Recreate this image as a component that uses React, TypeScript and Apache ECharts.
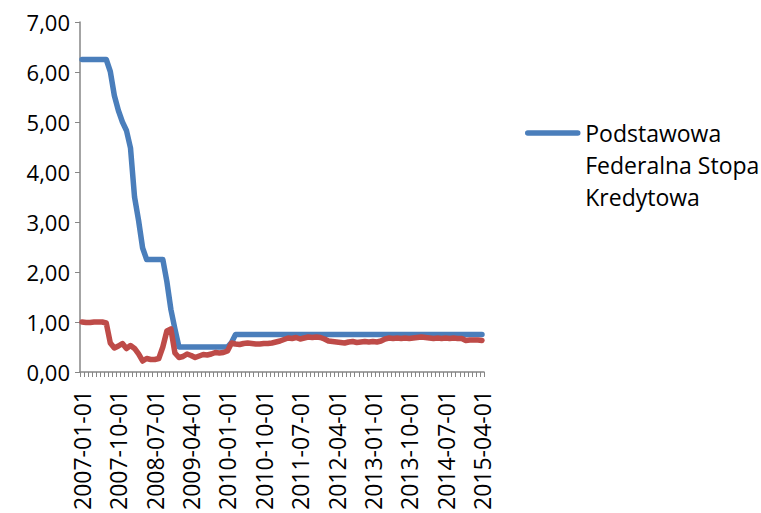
import React, { useEffect, useRef } from "react";
import * as echarts from "echarts";

const START_YEAR = 2007;
const MONTH_COUNT = 100;

function buildMonths(startYear: number, count: number): string[] {
  const out: string[] = [];
  for (let i = 0; i < count; i++) {
    const y = startYear + Math.floor(i / 12);
    const m = (i % 12) + 1;
    out.push(`${y}-${m < 10 ? "0" + m : m}-01`);
  }
  return out;
}

const categories = buildMonths(START_YEAR, MONTH_COUNT);

const blueName = "Podstawowa Federalna Stopa Kredytowa";
const blueLegendLines = ["Podstawowa", "Federalna Stopa", "Kredytowa"];
const redName = "Seria 2";

const blueValues = [
  6.25, 6.25, 6.25, 6.25, 6.25, 6.25, 6.25, 6.01, 5.53, 5.23,
  5.0, 4.83, 4.48, 3.5, 3.03, 2.48, 2.25, 2.25, 2.25, 2.25,
  2.25, 1.81, 1.25, 0.86, 0.5, 0.5, 0.5, 0.5, 0.5, 0.5,
  0.5, 0.5, 0.5, 0.5, 0.5, 0.5, 0.5, 0.59, 0.75, 0.75,
  0.75, 0.75, 0.75, 0.75, 0.75, 0.75, 0.75, 0.75, 0.75, 0.75,
  0.75, 0.75, 0.75, 0.75, 0.75, 0.75, 0.75, 0.75, 0.75, 0.75,
  0.75, 0.75, 0.75, 0.75, 0.75, 0.75, 0.75, 0.75, 0.75, 0.75,
  0.75, 0.75, 0.75, 0.75, 0.75, 0.75, 0.75, 0.75, 0.75, 0.75,
  0.75, 0.75, 0.75, 0.75, 0.75, 0.75, 0.75, 0.75, 0.75, 0.75,
  0.75, 0.75, 0.75, 0.75, 0.75, 0.75, 0.75, 0.75, 0.75, 0.75,
];

const redValues = [
  1.0, 0.99, 0.99, 1.0, 1.0, 1.0, 0.98, 0.58, 0.48, 0.52,
  0.57, 0.47, 0.53, 0.47, 0.36, 0.22, 0.27, 0.25, 0.25, 0.27,
  0.5, 0.82, 0.86, 0.38, 0.29, 0.31, 0.36, 0.33, 0.29, 0.32,
  0.35, 0.34, 0.36, 0.39, 0.38, 0.39, 0.42, 0.58, 0.56, 0.55,
  0.57, 0.58, 0.57, 0.56, 0.56, 0.57, 0.57, 0.58, 0.6, 0.62,
  0.65, 0.68, 0.67, 0.69, 0.66, 0.68, 0.7, 0.69, 0.7, 0.69,
  0.66, 0.62, 0.61, 0.6, 0.59, 0.58, 0.6, 0.61, 0.59, 0.6,
  0.61, 0.6, 0.61, 0.6, 0.62, 0.66, 0.68, 0.67, 0.68, 0.67,
  0.68, 0.67, 0.68, 0.69, 0.7, 0.69, 0.68, 0.67, 0.68, 0.67,
  0.68, 0.67, 0.68, 0.67, 0.67, 0.63, 0.64, 0.64, 0.64, 0.63,
];

const FONT = "'Open Sans', 'Noto Sans', sans-serif";
const AXIS_COLOR = "#868686";
const BLUE = "#4A7EBB";
const RED = "#BE4B48";

export default function App() {
  const ref = useRef<HTMLDivElement>(null);

  useEffect(() => {
    if (!ref.current) return;
    const chart = echarts.init(ref.current, undefined, { renderer: "svg" });
    chart.setOption({
      animation: false,
      backgroundColor: "#ffffff",
      textStyle: { fontFamily: FONT },
      grid: { left: 80, top: 22, width: 404, height: 351, containLabel: false },
      legend: { show: false, data: [blueName] },
      graphic: [
        {
          type: "group",
          left: 525,
          top: 117,
          children: [
            {
              type: "line",
              shape: { x1: 2.5, y1: 16, x2: 52.5, y2: 16 },
              style: { stroke: BLUE, lineWidth: 5.5, lineCap: "round" },
            },
            {
              type: "text",
              x: 60,
              y: 0,
              style: {
                text: blueLegendLines.join("\n"),
                font: `23px ${FONT}`,
                fill: "#000000",
                lineHeight: 32,
                textVerticalAlign: "top",
              },
            },
          ],
        },
      ],
      xAxis: {
        type: "category",
        data: categories,
        boundaryGap: true,
        axisLine: { show: true, lineStyle: { color: AXIS_COLOR, width: 1.5 } },
        axisTick: {
          show: true,
          interval: 0,
          length: 5,
          lineStyle: { color: AXIS_COLOR, width: 1 },
        },
        axisLabel: {
          interval: 8,
          rotate: 90,
          margin: 18,
          fontFamily: FONT,
          fontSize: 23,
          color: "#000000",
        },
        splitLine: { show: false },
      },
      yAxis: {
        type: "value",
        min: 0,
        max: 7,
        interval: 1,
        axisLine: { show: true, lineStyle: { color: AXIS_COLOR, width: 1.5 } },
        axisTick: { show: true, length: 5, lineStyle: { color: AXIS_COLOR, width: 1 } },
        axisLabel: {
          margin: 10,
          fontFamily: FONT,
          fontSize: 22,
          color: "#000000",
          formatter: (v: number) => v.toFixed(2).replace(".", ","),
        },
        splitLine: { show: false },
      },
      series: [
        {
          name: blueName,
          type: "line",
          data: blueValues,
          symbol: "none",
          lineStyle: { color: BLUE, width: 5.5, cap: "round", join: "round" },
          itemStyle: { color: BLUE },
          z: 2,
        },
        {
          name: redName,
          type: "line",
          data: redValues,
          symbol: "none",
          lineStyle: { color: RED, width: 5.5, cap: "round", join: "round" },
          itemStyle: { color: RED },
          z: 3,
        },
      ],
    });
    return () => chart.dispose();
  }, []);

  return (
    <div
      ref={ref}
      style={{ position: "fixed", left: 0, top: 0, width: 761, height: 513 }}
    />
  );
}
